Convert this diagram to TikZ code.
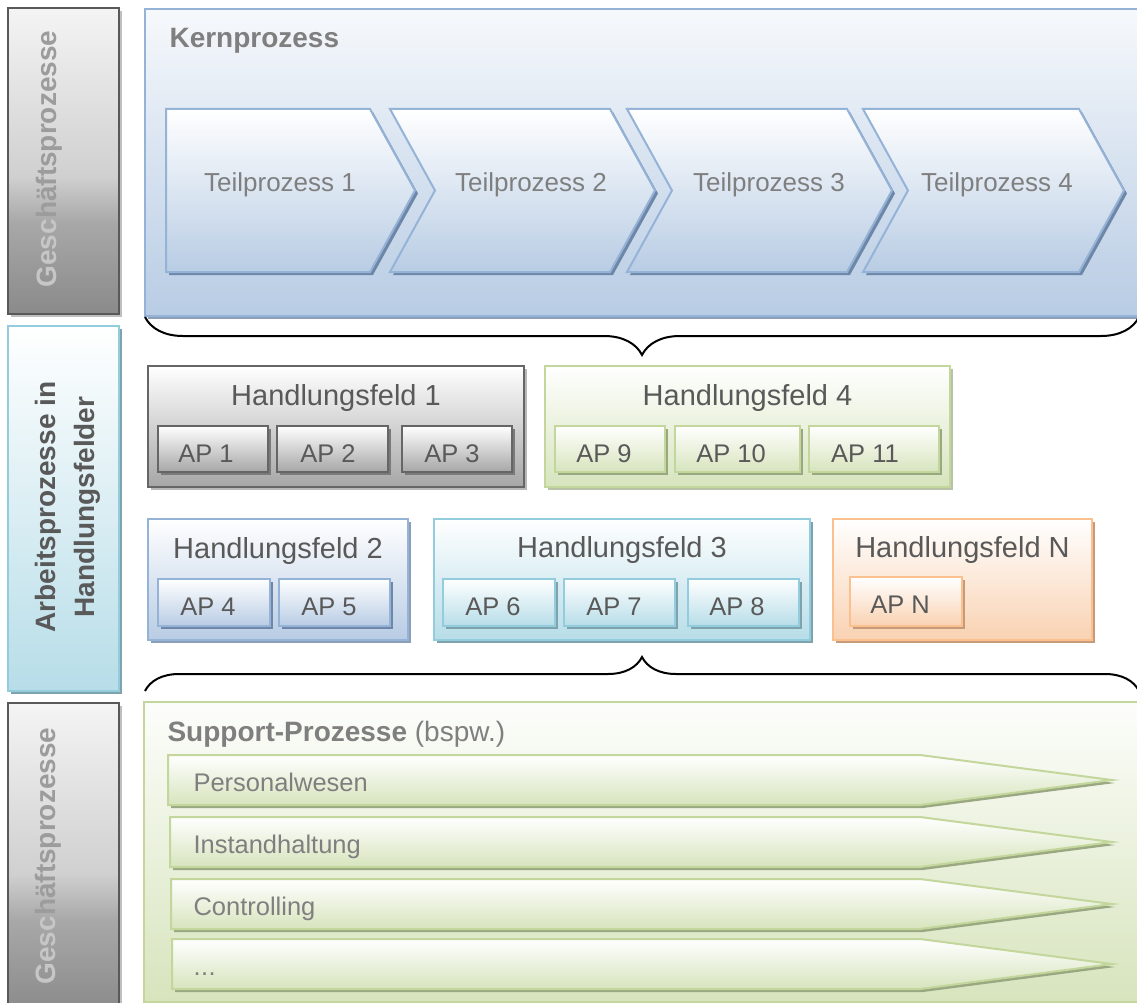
\documentclass[tikz,border=0pt]{standalone}
\usepackage{fontspec}
\setmainfont{Liberation Sans}
\usepackage{tikz}
\usetikzlibrary{shadows}
\usetikzlibrary{decorations.pathreplacing}
\usepackage{xcolor}
\definecolor{textgray}{HTML}{595959}
\definecolor{labelgray}{HTML}{7F7F7F}
\definecolor{sidedark}{HTML}{9C9C9C}
\definecolor{sidelight}{HTML}{C6C6C6}
\definecolor{sidetop}{HTML}{F4F4F4}
\definecolor{sidemid}{HTML}{D0D0D0}
\definecolor{sidelow}{HTML}{A8A8A8}
\definecolor{sidebottom}{HTML}{8A8A8A}
\definecolor{blueline}{HTML}{95B3D7}
\definecolor{bluefill}{HTML}{B8CCE4}
\definecolor{blueshadow}{HTML}{6E87A8}
\definecolor{greenline}{HTML}{C3D69B}
\definecolor{greenfill}{HTML}{D7E4BD}
\definecolor{greenshadow}{HTML}{9AA882}
\definecolor{cyanline}{HTML}{93CDDD}
\definecolor{cyanfill}{HTML}{B7DDE8}
\definecolor{cyanshadow}{HTML}{7FA3AC}
\definecolor{orangeline}{HTML}{FAC090}
\definecolor{orangefill}{HTML}{F9D2B2}
\definecolor{orangeshadow}{HTML}{C79A7A}
\definecolor{grayline}{HTML}{666666}
\definecolor{grayfill}{HTML}{A6A6A6}
\definecolor{grayshadow}{HTML}{7A7A7A}
\pgfdeclareverticalshading{seitengrau}{100bp}{color(0bp)=(sidebottom); color(25bp)=(sidebottom); color(40bp)=(sidelow); color(47.5bp)=(sidemid); color(75bp)=(sidetop); color(100bp)=(sidetop)}

\tikzset{
  schatten/.style={drop shadow={shadow xshift=3pt, shadow yshift=-3pt, opacity=1, fill=#1}},
  feld/.style n args={3}{rectangle, draw=#1, line width=2pt, top color=white, bottom color=#2, schatten=#3, inner sep=0pt},
  seite/.style n args={4}{rectangle, draw=#1, line width=2.5pt, top color=#2, bottom color=#3, schatten=#4, inner sep=0pt, minimum width=111pt},
  grauseite/.style={rectangle, draw=textgray, line width=2.5pt, shade, shading=seitengrau, schatten=white!75!black, inner sep=0pt, minimum width=111pt},
  feldtitel/.style={font=\fontsize{29}{34}\selectfont, text=textgray, anchor=base},
  aptext/.style={font=\fontsize{25.5}{30}\selectfont, text=textgray, anchor=base},
  tptext/.style={font=\fontsize{26}{31}\selectfont, text=labelgray, anchor=base},
  sptext/.style={font=\fontsize{25.5}{30}\selectfont, text=labelgray, anchor=base west},
  seitentext/.style={font=\fontsize{28}{39}\selectfont\bfseries, rotate=90, align=center},
  klammer/.style={decorate, decoration={brace, amplitude=#1}, line width=2pt},
}
\newcommand\gpword{{\color{sidelight}Gesc}häftsprozesse}

\begin{document}
\begin{tikzpicture}[x=1pt, y=-1pt]
    \path[use as bounding box, clip] (0,0) rectangle (1137,1003);

    % sidebars
    \node[grauseite, minimum height=306pt] (gp1) at (63.5,161) {};
    \node[seitentext, text=sidedark, anchor=base] (gp1text) at (56,159) {\gpword};
    \node[seite={cyanline}{white}{cyanfill}{cyanshadow}, minimum height=365pt] (ap) at (63.5,508.5) {};
    \node[seitentext, text=textgray] (aptitle) at (68,507) {Arbeitsprozesse in\\Handlungsfelder};
    \node[grauseite, minimum height=310pt] (gp2) at (63.5,858) {};
    \node[seitentext, text=sidedark, anchor=base] (gp2text) at (55,856) {\gpword};

    % Kernprozess
    \node[feld={blueline}{bluefill}{blueshadow!80}, middle color=bluefill!45!white, top color=bluefill!12!white, minimum width=1000pt, minimum height=307pt] (kern) at (645,162.5) {};
    \node[font=\fontsize{28}{33}\selectfont\bfseries, text=labelgray, anchor=base west] (kerntitle) at (166,48) {Kernprozess};
    \foreach \x/\w/\n/\i/\tx in {166/204/0/1/280, 390/220/45/2/531, 627/220/45/3/769, 863/216/45/4/997}{
      \draw[draw=blueline, line width=2pt, top color=white, bottom color=bluefill, schatten=blueshadow]
        (\x,109) -- ++(\w,0) -- ++(45,81.5) -- ++(-45,81.5) -- ++(-\w,0) -- ++(\n,-81.5) -- cycle;
      \node[tptext] (tp\i) at (\tx,192) {Teilprozess \i};
    }

    \coordinate (kl) at (145,317);
    \coordinate (kr) at (1139,317);
    \draw[klammer=38pt, decoration={mirror}] (kl) -- (kr);

    % Handlungsfelder
    \node[feld={grayline}{grayfill}{white!72!black}, minimum width=376pt, minimum height=121pt] (hf1) at (336,426.5) {};
    \node[feldtitel] (hf1title) at (336,405) {Handlungsfeld 1};
    \node[feld={grayline}{grayfill}{grayshadow}, minimum width=110pt, minimum height=46pt] (ap1) at (213,449) {};
    \node[feld={grayline}{grayfill}{grayshadow}, minimum width=111pt, minimum height=46pt] (ap2) at (332.5,449) {};
    \node[feld={grayline}{grayfill}{grayshadow}, minimum width=110pt, minimum height=46pt] (ap3) at (457,449) {};
    \node[aptext] at (206,462) {AP 1};
    \node[aptext] at (328,462) {AP 2};
    \node[aptext] at (452,462) {AP 3};

    \node[feld={greenline}{greenfill}{greenshadow!70}, minimum width=405pt, minimum height=121pt] (hf4) at (747.5,426.5) {};
    \node[feldtitel] (hf4title) at (747.5,405) {Handlungsfeld 4};
    \node[feld={greenline}{greenfill}{greenshadow}, minimum width=110pt, minimum height=46pt] (ap9) at (610,449) {};
    \node[feld={greenline}{greenfill}{greenshadow}, minimum width=125pt, minimum height=46pt] (ap10) at (737.5,449) {};
    \node[feld={greenline}{greenfill}{greenshadow}, minimum width=130pt, minimum height=46pt] (ap11) at (874,449) {};
    \node[aptext] at (604,462) {AP 9};
    \node[aptext] at (731,462) {AP 10};
    \node[aptext] at (865,462) {AP 11};

    \node[feld={blueline}{bluefill}{blueshadow!80}, minimum width=260pt, minimum height=121pt] (hf2) at (278,579.5) {};
    \node[feldtitel] (hf2title) at (278,558) {Handlungsfeld 2};
    \node[feld={blueline}{bluefill}{blueshadow}, minimum width=112pt, minimum height=47pt] (ap4) at (214,602.5) {};
    \node[feld={blueline}{bluefill}{blueshadow}, minimum width=111pt, minimum height=47pt] (ap5) at (334.5,602.5) {};
    \node[aptext] at (208,615) {AP 4};
    \node[aptext] at (329,615) {AP 5};

    \node[feld={cyanline}{cyanfill}{cyanshadow}, minimum width=376pt, minimum height=121pt] (hf3) at (622,579.5) {};
    \node[feldtitel] (hf3title) at (622,557) {Handlungsfeld 3};
    \node[feld={cyanline}{cyanfill}{cyanshadow}, minimum width=112pt, minimum height=47pt] (ap6) at (499,602.5) {};
    \node[feld={cyanline}{cyanfill}{cyanshadow}, minimum width=111pt, minimum height=47pt] (ap7) at (619.5,602.5) {};
    \node[feld={cyanline}{cyanfill}{cyanshadow}, minimum width=111pt, minimum height=47pt] (ap8) at (743.5,602.5) {};
    \node[aptext] at (493,615) {AP 6};
    \node[aptext] at (614,615) {AP 7};
    \node[aptext] at (737,615) {AP 8};

    \node[feld={orangeline}{orangefill}{orangeshadow}, minimum width=259pt, minimum height=121pt] (hfn) at (962.5,579.5) {};
    \node[feldtitel] (hfntitle) at (962.5,557) {Handlungsfeld N};
    \node[feld={orangeline}{orangefill}{orangeshadow}, minimum width=112pt, minimum height=49pt] (apn) at (906,601.5) {};
    \node[aptext] at (900,613) {AP N};

    \coordinate (sl) at (145,691);
    \coordinate (sr) at (1139,691);
    \draw[klammer=34pt] (sl) -- (sr);

    % Support-Prozesse
    \node[feld={greenline}{greenfill}{greenshadow!70}, top color=white!60!greenfill!15, minimum width=1001pt, minimum height=300pt] (support) at (644.5,852) {};
    \node[font=\fontsize{28}{33}\selectfont, text=labelgray, anchor=base west] (supporttitle) at (164,741) {\textbf{Support-Prozesse} (bspw.)};
    \foreach \x/\t/\i/\txt in {168/755/1/Personalwesen, 170/817/2/Instandhaltung, 171/879/3/Controlling, 172/939/4/{.\kern.5pt.\kern.5pt.}}{
      \draw[draw=greenline, line width=2pt, top color=white, bottom color=greenfill, schatten=greenshadow]
        (\x,\t) -- (920,\t) -- (1112,\t+25) -- (920,\t+50) -- (\x,\t+50) -- cycle;
      \node[sptext] (sp\i) at (190,\t+36) {\txt};
    }
\end{tikzpicture}
\end{document}
